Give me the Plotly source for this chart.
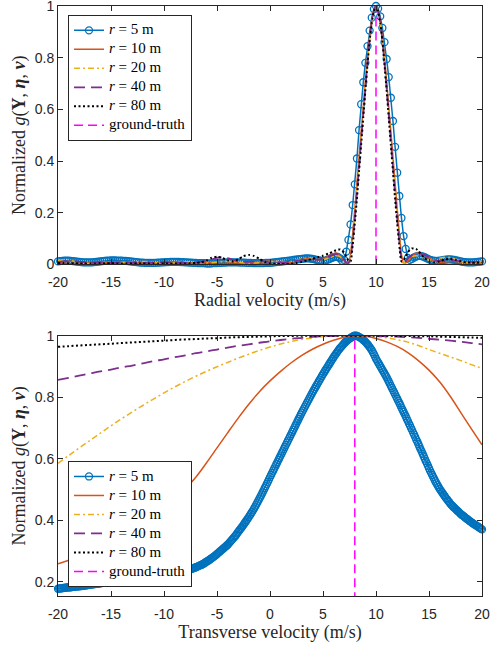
import numpy as np
import plotly.graph_objects as go

# ---------------- data ----------------
LEGEND_NAMES = ["<i>r</i> = 5 m", "<i>r</i> = 10 m", "<i>r</i> = 20 m",
                "<i>r</i> = 40 m", "<i>r</i> = 80 m", "ground-truth"]
VEL_TICKS = [-20, -15, -10, -5, 0, 5, 10, 15, 20]
VEL_TICK_LABELS = ["-20", "-15", "-10", "-5", "0", "5", "10", "15", "20"]
TOP_Y_TICKS = [0, 0.2, 0.4, 0.6, 0.8, 1]
TOP_Y_LABELS = ["0", "0.2", "0.4", "0.6", "0.8", "1"]
BOT_Y_TICKS = [0.2, 0.4, 0.6, 0.8, 1]
BOT_Y_LABELS = ["0.2", "0.4", "0.6", "0.8", "1"]

GT_RADIAL = 10.0
GT_TRANSVERSE = 8.0
GT_Y = [0.0, 1.0]

# sample grids (velocity, m/s)
TOP_X_FINE = np.round(np.arange(-20, 20.001, 0.2), 1)                 # r = 5 m (markers)
TOP_X_LINE = np.round(np.concatenate([np.arange(-20, 5.51, 0.5),
                                      np.arange(6.0, 14.001, 0.2),
                                      np.arange(14.5, 20.01, 0.5)]), 1)
BOT_X_FINE = np.round(np.arange(-20, 20.001, 0.1), 1)
BOT_X_LINE = np.arange(-20, 21, 1)

# ---- radial velocity (top) ----
R5_TOP = [
    0.012, 0.013, 0.014, 0.015, 0.015, 0.015, 0.014, 0.013, 0.012, 0.011,
    0.010, 0.009, 0.008, 0.008, 0.008, 0.008, 0.008, 0.009, 0.010, 0.011,
    0.012, 0.013, 0.014, 0.015, 0.015, 0.016, 0.016, 0.016, 0.015, 0.015,
    0.015, 0.014, 0.014, 0.013, 0.012, 0.011, 0.010, 0.009, 0.008, 0.007,
    0.007, 0.006, 0.006, 0.006, 0.006, 0.006, 0.006, 0.007, 0.007, 0.008,
    0.008, 0.009, 0.009, 0.010, 0.010, 0.010, 0.010, 0.010, 0.009, 0.009,
    0.008, 0.008, 0.007, 0.007, 0.006, 0.006, 0.005, 0.005, 0.005, 0.005,
    0.004, 0.004, 0.004, 0.005, 0.005, 0.005, 0.006, 0.006, 0.007, 0.007,
    0.008, 0.008, 0.008, 0.008, 0.008, 0.008, 0.007, 0.007, 0.007, 0.006,
    0.006, 0.006, 0.005, 0.005, 0.005, 0.005, 0.005, 0.005, 0.006, 0.006,
    0.006, 0.007, 0.008, 0.009, 0.010, 0.011, 0.012, 0.013, 0.014, 0.015,
    0.016, 0.018, 0.019, 0.020, 0.021, 0.022, 0.023, 0.024, 0.024, 0.023,
    0.022, 0.020, 0.018, 0.016, 0.015, 0.014, 0.015, 0.018, 0.021, 0.025,
    0.028, 0.030, 0.029, 0.024, 0.014, 0.018, 0.050, 0.095, 0.155, 0.230,
    0.310, 0.410, 0.520, 0.620, 0.705, 0.780, 0.845, 0.905, 0.955, 0.988,
    1.000, 0.990, 0.960, 0.915, 0.860, 0.795, 0.725, 0.645, 0.555, 0.455,
    0.355, 0.265, 0.180, 0.110, 0.060, 0.025, 0.018, 0.022, 0.027, 0.031,
    0.033, 0.033, 0.031, 0.028, 0.024, 0.020, 0.017, 0.015, 0.014, 0.014,
    0.015, 0.016, 0.018, 0.019, 0.020, 0.020, 0.019, 0.018, 0.016, 0.014,
    0.012, 0.010, 0.009, 0.008, 0.008, 0.008, 0.008, 0.009, 0.010, 0.011,
    0.012,
]

R10_TOP = [
    0.008, 0.010, 0.012, 0.012, 0.010, 0.008, 0.006, 0.005, 0.006, 0.008,
    0.010, 0.011, 0.011, 0.010, 0.008, 0.007, 0.006, 0.006, 0.007, 0.008,
    0.009, 0.010, 0.010, 0.009, 0.008, 0.006, 0.005, 0.006, 0.008, 0.010,
    0.011, 0.012, 0.011, 0.009, 0.007, 0.006, 0.006, 0.008, 0.010, 0.012,
    0.013, 0.012, 0.010, 0.008, 0.008, 0.012, 0.018, 0.022, 0.022, 0.018,
    0.020, 0.032,
    0.042, 0.044, 0.040, 0.032, 0.022, 0.013, 0.005, 0.002, 0.040, 0.120,
    0.215, 0.315, 0.415, 0.515, 0.610, 0.710, 0.800, 0.880, 0.945, 0.985,
    1.000, 0.985, 0.945, 0.880, 0.800, 0.710, 0.610, 0.515, 0.415, 0.315,
    0.215, 0.120, 0.040, 0.004, 0.006, 0.012, 0.022, 0.031, 0.038, 0.043,
    0.045,
    0.038, 0.025, 0.014, 0.009, 0.010, 0.012, 0.012, 0.010, 0.008, 0.007,
    0.008, 0.010,
]

R20_TOP = [
    0.015, 0.018, 0.017, 0.013, 0.008, 0.005, 0.004, 0.005, 0.007, 0.009,
    0.010, 0.010, 0.009, 0.008, 0.009, 0.011, 0.012, 0.011, 0.009, 0.007,
    0.006, 0.006, 0.007, 0.009, 0.010, 0.010, 0.009, 0.007, 0.006, 0.007,
    0.009, 0.011, 0.012, 0.011, 0.009, 0.007, 0.006, 0.006, 0.007, 0.009,
    0.011, 0.012, 0.012, 0.011, 0.012, 0.016, 0.022, 0.025, 0.024, 0.020,
    0.018, 0.024,
    0.032, 0.034, 0.034, 0.030, 0.023, 0.015, 0.007, 0.002, 0.035, 0.105,
    0.195, 0.295, 0.395, 0.495, 0.595, 0.695, 0.790, 0.872, 0.940, 0.983,
    1.000, 0.983, 0.940, 0.872, 0.790, 0.695, 0.595, 0.495, 0.395, 0.295,
    0.195, 0.105, 0.035, 0.004, 0.010, 0.018, 0.025, 0.030, 0.033, 0.034,
    0.033,
    0.025, 0.017, 0.018, 0.024, 0.028, 0.027, 0.020, 0.012, 0.008, 0.007,
    0.009, 0.012,
]

R40_TOP = [
    0.010, 0.012, 0.013, 0.013, 0.011, 0.009, 0.007, 0.006, 0.006, 0.007,
    0.008, 0.009, 0.009, 0.008, 0.007, 0.006, 0.006, 0.007, 0.008, 0.009,
    0.009, 0.008, 0.007, 0.006, 0.006, 0.007, 0.008, 0.010, 0.014, 0.020,
    0.026, 0.028, 0.025, 0.018, 0.012, 0.010, 0.010, 0.011, 0.012, 0.011,
    0.009, 0.008, 0.008, 0.009, 0.011, 0.014, 0.018, 0.020, 0.020, 0.019,
    0.022, 0.030,
    0.038, 0.040, 0.039, 0.034, 0.026, 0.017, 0.008, 0.006, 0.025, 0.090,
    0.178, 0.275, 0.378, 0.480, 0.582, 0.685, 0.782, 0.868, 0.937, 0.982,
    1.000, 0.982, 0.937, 0.868, 0.782, 0.685, 0.582, 0.480, 0.378, 0.275,
    0.178, 0.090, 0.025, 0.006, 0.012, 0.022, 0.031, 0.037, 0.041, 0.043,
    0.043,
    0.038, 0.028, 0.018, 0.013, 0.013, 0.015, 0.015, 0.013, 0.011, 0.010,
    0.011, 0.012,
]

R80_TOP = [
    0.006, 0.006, 0.005, 0.005, 0.004, 0.004, 0.004, 0.004, 0.005, 0.005,
    0.005, 0.004, 0.004, 0.004, 0.004, 0.004, 0.004, 0.004, 0.004, 0.004,
    0.004, 0.004, 0.004, 0.004, 0.004, 0.005, 0.006, 0.008, 0.015, 0.026,
    0.030, 0.025, 0.016, 0.012, 0.020, 0.032, 0.037, 0.033, 0.022, 0.010,
    0.004, 0.002, 0.001, 0.001, 0.003, 0.006, 0.010, 0.016, 0.022, 0.028,
    0.034, 0.042,
    0.050, 0.055, 0.058, 0.058, 0.054, 0.045, 0.030, 0.015, 0.012, 0.075,
    0.160, 0.255, 0.360, 0.465, 0.570, 0.675, 0.775, 0.865, 0.935, 0.980,
    1.000, 0.980, 0.935, 0.865, 0.775, 0.675, 0.570, 0.465, 0.360, 0.255,
    0.160, 0.075, 0.012, 0.015, 0.032, 0.047, 0.057, 0.062, 0.063, 0.060,
    0.052,
    0.028, 0.012, 0.008, 0.012, 0.020, 0.022, 0.018, 0.012, 0.008, 0.007,
    0.007, 0.008,
]

# ---- transverse velocity (bottom), r = 5 m sampled every 0.1 m/s ----
R5_BOT = [
    0.1770, 0.1775, 0.1780, 0.1785, 0.1790, 0.1795, 0.1800, 0.1805, 0.1810, 0.1815,
    0.1820, 0.1820, 0.1820, 0.1825, 0.1830, 0.1835, 0.1840, 0.1845, 0.1850, 0.1850,
    0.1850, 0.1855, 0.1860, 0.1865, 0.1870, 0.1875, 0.1880, 0.1885, 0.1890, 0.1895,
    0.1900, 0.1905, 0.1910, 0.1915, 0.1920, 0.1925, 0.1930, 0.1935, 0.1940, 0.1945,
    0.1950, 0.1955, 0.1960, 0.1965, 0.1970, 0.1975, 0.1980, 0.1985, 0.1990, 0.1995,
    0.2000, 0.2005, 0.2010, 0.2015, 0.2020, 0.2025, 0.2030, 0.2035, 0.2040, 0.2045,
    0.2050, 0.2055, 0.2060, 0.2065, 0.2070, 0.2075, 0.2080, 0.2085, 0.2090, 0.2095,
    0.2100, 0.2105, 0.2110, 0.2115, 0.2120, 0.2125, 0.2130, 0.2135, 0.2140, 0.2145,
    0.2150, 0.2155, 0.2160, 0.2165, 0.2170, 0.2175, 0.2180, 0.2185, 0.2190, 0.2195,
    0.2200, 0.2205, 0.2210, 0.2215, 0.2220, 0.2225, 0.2230, 0.2235, 0.2240, 0.2245,
    0.2250, 0.2255, 0.2260, 0.2265, 0.2270, 0.2275, 0.2280, 0.2285, 0.2290, 0.2295,
    0.2300, 0.2305, 0.2310, 0.2315, 0.2320, 0.2325, 0.2330, 0.2335, 0.2340, 0.2350,
    0.2360, 0.2370, 0.2380, 0.2390, 0.2400, 0.2410, 0.2420, 0.2430, 0.2440, 0.2455,
    0.2470, 0.2485, 0.2500, 0.2515, 0.2530, 0.2545, 0.2560, 0.2580, 0.2600, 0.2625,
    0.2650, 0.2670, 0.2690, 0.2715, 0.2740, 0.2765, 0.2790, 0.2815, 0.2840, 0.2870,
    0.2900, 0.2930, 0.2960, 0.2990, 0.3020, 0.3050, 0.3080, 0.3110, 0.3140, 0.3170,
    0.3200, 0.3240, 0.3280, 0.3320, 0.3360, 0.3400, 0.3440, 0.3480, 0.3520, 0.3570,
    0.3620, 0.3665, 0.3710, 0.3755, 0.3800, 0.3850, 0.3900, 0.3950, 0.4000, 0.4050,
    0.4100, 0.4155, 0.4210, 0.4265, 0.4320, 0.4380, 0.4440, 0.4505, 0.4570, 0.4635,
    0.4700, 0.4765, 0.4830, 0.4900, 0.4970, 0.5040, 0.5110, 0.5180, 0.5250, 0.5325,
    0.5400, 0.5470, 0.5540, 0.5610, 0.5680, 0.5750, 0.5820, 0.5890, 0.5960, 0.6030,
    0.6100, 0.6170, 0.6240, 0.6310, 0.6380, 0.6450, 0.6520, 0.6590, 0.6660, 0.6730,
    0.6800, 0.6870, 0.6940, 0.7010, 0.7080, 0.7150, 0.7220, 0.7290, 0.7360, 0.7430,
    0.7500, 0.7565, 0.7630, 0.7695, 0.7760, 0.7825, 0.7890, 0.7955, 0.8020, 0.8085,
    0.8150, 0.8210, 0.8270, 0.8330, 0.8390, 0.8450, 0.8510, 0.8570, 0.8630, 0.8690,
    0.8750, 0.8805, 0.8860, 0.8915, 0.8970, 0.9025, 0.9080, 0.9135, 0.9190, 0.9245,
    0.9300, 0.9350, 0.9400, 0.9450, 0.9500, 0.9545, 0.9590, 0.9630, 0.9670, 0.9710,
    0.9750, 0.9785, 0.9820, 0.9850, 0.9880, 0.9905, 0.9930, 0.9950, 0.9970, 0.9990,
    1.0000, 1.0000, 0.9990, 0.9980, 0.9960, 0.9940, 0.9920, 0.9890, 0.9860, 0.9830,
    0.9800, 0.9760, 0.9720, 0.9675, 0.9630, 0.9580, 0.9530, 0.9465, 0.9400, 0.9325,
    0.9250, 0.9190, 0.9130, 0.9070, 0.9010, 0.8950, 0.8890, 0.8830, 0.8770, 0.8710,
    0.8650, 0.8580, 0.8510, 0.8440, 0.8370, 0.8300, 0.8230, 0.8160, 0.8090, 0.8020,
    0.7950, 0.7880, 0.7810, 0.7740, 0.7660, 0.7590, 0.7520, 0.7450, 0.7380, 0.7300,
    0.7230, 0.7150, 0.7080, 0.7000, 0.6930, 0.6850, 0.6780, 0.6700, 0.6620, 0.6550,
    0.6470, 0.6390, 0.6310, 0.6240, 0.6160, 0.6080, 0.6000, 0.5920, 0.5850, 0.5770,
    0.5690, 0.5610, 0.5540, 0.5470, 0.5400, 0.5330, 0.5260, 0.5200, 0.5140, 0.5080,
    0.5020, 0.4970, 0.4920, 0.4870, 0.4820, 0.4770, 0.4720, 0.4680, 0.4630, 0.4590,
    0.4540, 0.4500, 0.4470, 0.4430, 0.4400, 0.4370, 0.4330, 0.4300, 0.4270, 0.4230,
    0.4200, 0.4170, 0.4150, 0.4120, 0.4090, 0.4060, 0.4040, 0.4010, 0.3980, 0.3960,
    0.3930, 0.3910, 0.3880, 0.3860, 0.3840, 0.3820, 0.3790, 0.3770, 0.3750, 0.3720,
    0.3700,
]

R10_BOT = [
    0.258, 0.270, 0.283, 0.296, 0.311, 0.327, 0.345, 0.365, 0.387, 0.411,
    0.438, 0.468, 0.502, 0.540, 0.586, 0.635, 0.684, 0.732, 0.777, 0.818,
    0.853, 0.884, 0.912, 0.936, 0.956, 0.972, 0.985, 0.995, 1.000, 0.998,
    0.991, 0.980, 0.965, 0.945, 0.919, 0.888, 0.850, 0.803, 0.750, 0.697,
    0.645,
]

R20_BOT = [
    0.585, 0.610, 0.635, 0.659, 0.683, 0.707, 0.730, 0.752, 0.773, 0.794,
    0.814, 0.833, 0.851, 0.868, 0.884, 0.899, 0.913, 0.927, 0.940, 0.952,
    0.963, 0.973, 0.981, 0.988, 0.993, 0.997, 0.999, 1.000, 1.000, 0.999,
    0.997, 0.993, 0.987, 0.979, 0.968, 0.955, 0.943, 0.931, 0.919, 0.906,
    0.894,
]

R40_BOT = [
    0.856, 0.863, 0.870, 0.877, 0.884, 0.890, 0.897, 0.903, 0.910, 0.917,
    0.923, 0.930, 0.936, 0.943, 0.949, 0.955, 0.961, 0.967, 0.972, 0.977,
    0.982, 0.986, 0.990, 0.993, 0.996, 0.998, 0.999, 1.000, 1.000, 1.000,
    0.999, 0.998, 0.997, 0.995, 0.993, 0.990, 0.987, 0.984, 0.980, 0.976,
    0.972,
]

R80_BOT = [
    0.964, 0.966, 0.968, 0.970, 0.972, 0.974, 0.976, 0.978, 0.980, 0.982,
    0.984, 0.986, 0.988, 0.989, 0.991, 0.992, 0.994, 0.995, 0.996, 0.997,
    0.998, 0.999, 0.999, 1.000, 1.000, 1.000, 1.000, 1.000, 1.000, 1.000,
    1.000, 1.000, 0.999, 0.999, 0.998, 0.998, 0.997, 0.996, 0.995, 0.994,
    0.993,
]

# ---------------- styles ----------------
BLUE, ORANGE, YELLOW, PURPLE, BLACK, MAGENTA = (
    "#0072BD", "#D95319", "#EDB120", "#7E2F8E", "#000000", "#FF00FF")
SERIF = "Liberation Serif"
SANS = "Liberation Sans"
AXC = "#262626"

fig = go.Figure()


def legend_label(txt):
    return '<span style="font-size:15px">' + txt + '</span>'


def add_panel(xf, y5, xl, ys, gt_x, xa, ya, legend_id, smooth):
    fig.add_trace(go.Scatter(
        x=xf, y=y5, name=legend_label(LEGEND_NAMES[0]), mode="lines+markers",
        line=dict(color=BLUE, width=1.5),
        marker=dict(symbol="circle-open", size=7, color=BLUE, line=dict(width=1.3, color=BLUE)),
        cliponaxis=False, xaxis=xa, yaxis=ya, legend=legend_id))
    styles = [(ORANGE, 1.5, "solid"), (YELLOW, 1.5, "6px,3px,2px,3px"),
              (PURPLE, 1.8, "11px,6px"), (BLACK, 2.0, "2px,2.5px")]
    for (c, w, d), yv, nm in zip(styles, ys, LEGEND_NAMES[1:5]):
        fig.add_trace(go.Scatter(
            x=xl, y=yv, name=legend_label(nm), mode="lines",
            line=dict(color=c, width=w, dash=d, shape="spline", smoothing=smooth),
            xaxis=xa, yaxis=ya, legend=legend_id))
    fig.add_trace(go.Scatter(
        x=[gt_x, gt_x], y=GT_Y, name=legend_label(LEGEND_NAMES[5]), mode="lines",
        line=dict(color=MAGENTA, width=1.5, dash="9px,5px"),
        xaxis=xa, yaxis=ya, legend=legend_id))


add_panel(TOP_X_FINE, R5_TOP, TOP_X_LINE, [R10_TOP, R20_TOP, R40_TOP, R80_TOP],
          GT_RADIAL, "x", "y", "legend", 0.5)
add_panel(BOT_X_FINE, R5_BOT, BOT_X_LINE, [R10_BOT, R20_BOT, R40_BOT, R80_BOT],
          GT_TRANSVERSE, "x2", "y2", "legend2", 1.0)

axis_common = dict(showline=True, linecolor=AXC, linewidth=1, mirror="ticks",
                   ticks="inside", ticklen=5, tickcolor=AXC, tickwidth=1,
                   showgrid=False, zeroline=False, automargin=False,
                   ticklabeloverflow="allow",
                   tickfont=dict(family=SANS, size=14, color=AXC))
title_font = dict(family=SERIF, size=18, color=AXC)
ytitle = "Normalized <i>g</i>(<b>Y</b>, <b><i>η</i></b>, <b><i>v</i></b>)"

legend_common = dict(xanchor="left", bgcolor="white",
                     bordercolor=AXC, borderwidth=1,
                     font=dict(family=SERIF, size=10.5, color="black"),
                     tracegroupgap=0)

fig.update_layout(
    width=490, height=645, paper_bgcolor="white", plot_bgcolor="white",
    margin=dict(l=58, r=8, t=6, b=49, autoexpand=False),
    showlegend=True,
    xaxis=dict(domain=[0, 1], range=[-20, 20], tickvals=VEL_TICKS, ticktext=VEL_TICK_LABELS,
               anchor="y", ticklabelstandoff=5,
               title=dict(text="Radial velocity (m/s)", font=title_font, standoff=0),
               **axis_common),
    yaxis=dict(domain=[0.5619, 1], range=[0, 1], tickvals=TOP_Y_TICKS, ticktext=TOP_Y_LABELS,
               anchor="x", title=dict(text=ytitle, font=title_font, standoff=4), **axis_common),
    xaxis2=dict(domain=[0, 1], range=[-20, 20], tickvals=VEL_TICKS, ticktext=VEL_TICK_LABELS,
                anchor="y2", ticklabelstandoff=5,
                title=dict(text="Transverse velocity (m/s)", font=title_font, standoff=1),
                **axis_common),
    yaxis2=dict(domain=[0, 0.4412], range=[0.1535, 1], tickvals=BOT_Y_TICKS, ticktext=BOT_Y_LABELS,
                anchor="x2", title=dict(text=ytitle, font=title_font, standoff=4), **axis_common),
    legend=dict(x=0.0236, y=0.985, yanchor="top", **legend_common),
    legend2=dict(x=0.0236, y=0.0153, yanchor="bottom", **legend_common),
)

fig.write_html("out.html", config={"displayModeBar": False},
               post_script="document.body.style.margin='0px';")
